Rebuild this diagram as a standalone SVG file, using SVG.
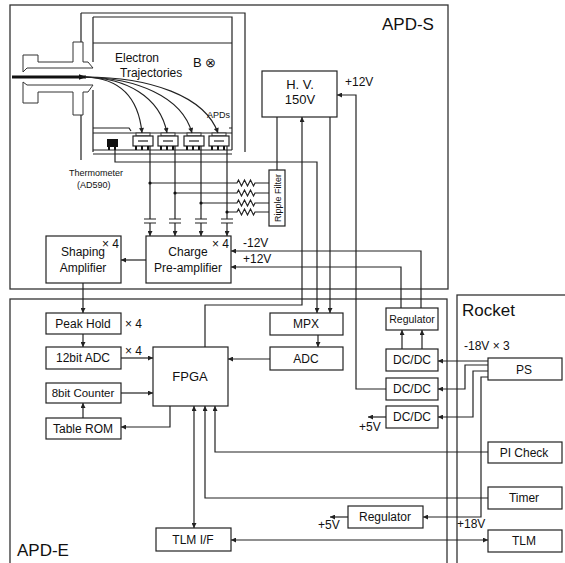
<svg xmlns="http://www.w3.org/2000/svg" width="565" height="563" viewBox="0 0 565 563">
<style>
.n{fill:#fff;stroke:#222;stroke-width:1.2}
.c{fill:none;stroke:#222;stroke-width:1.2}
.f{fill:none;stroke:#333;stroke-width:1.3}
.w{fill:#fff;stroke:#333;stroke-width:1}
text{font-family:"Liberation Sans",Arial,sans-serif;fill:#111}
.t{font-size:12px;text-anchor:middle}
.s{font-size:9px}
.big{font-size:17px}
</style>
<defs>
<marker id="a" viewBox="0 0 10 10" refX="10" refY="5" markerWidth="6" markerHeight="5" orient="auto-start-reverse" markerUnits="userSpaceOnUse"><path d="M0,0 L10,5 L0,10 z" fill="#222"/></marker>
<marker id="b" viewBox="0 0 10 10" refX="10" refY="5" markerWidth="11" markerHeight="7" orient="auto" markerUnits="userSpaceOnUse"><path d="M0,1 L10,5 L0,9 z" fill="#111"/></marker>
</defs>

<g id="frames">
<rect class="f" x="10" y="5" width="438" height="284"/>
<rect class="f" x="10" y="299" width="437" height="280"/>
<rect class="f" x="457" y="295" width="130" height="290"/>
<text class="big" x="382" y="30">APD-S</text>
<text class="big" x="17" y="556">APD-E</text>
<text class="big" x="462" y="316">Rocket</text>
</g>

<g id="chamber">
<path class="c" d="M81,13 H245 V152 M93,17 H232 V150 M81,13 V42 M81,115 V160 M93,17 V62 M93,90 V152 M93,43 H232"/>
<path class="c" d="M93,128 H129 L131,131 M93,133 H232 M93,150 H232 M93,154 H232 M229,128 H232"/>
<path class="w" d="M23,55 H38 V62 H73 V42 H83 V62 H88 L93,68 H27 L23,72 Z"/>
<path class="w" d="M23,82 L27,85 H93 L88,92 H83 V115 H73 V92 H38 V103 H23 Z"/>
<text x="115" y="62" style="font-size:12px">Electron</text>
<text x="120" y="77" style="font-size:12px">Trajectories</text>
<text x="193" y="67" style="font-size:13px">B ⊗</text>
<text class="s" x="207" y="118">APDs</text>
<text class="s" x="69" y="176">Thermometer</text>
<text class="s" x="77" y="188">(AD590)</text>
</g>

<g id="thermometer">
<rect x="107" y="139" width="11" height="8" fill="#111"/>
<rect x="108" y="147" width="2" height="3" fill="#111"/>
<rect x="114" y="147" width="2" height="3" fill="#111"/>
</g>

<g id="apds">
<g id="apd1" transform="translate(133,0)">
<rect class="w" x="3" y="133" width="14" height="3"/><rect class="n" x="0" y="136" width="20" height="10"/><line class="c" x1="5" y1="141" x2="15" y2="141"/>
<rect x="2" y="146" width="2" height="4" fill="#111"/><rect x="8" y="146" width="2" height="4" fill="#111"/><rect x="14" y="146" width="2" height="4" fill="#111"/>
</g>
<g id="apd2" transform="translate(158,0)">
<rect class="w" x="3" y="133" width="14" height="3"/><rect class="n" x="0" y="136" width="20" height="10"/><line class="c" x1="5" y1="141" x2="15" y2="141"/>
<rect x="2" y="146" width="2" height="4" fill="#111"/><rect x="8" y="146" width="2" height="4" fill="#111"/><rect x="14" y="146" width="2" height="4" fill="#111"/>
</g>
<g id="apd3" transform="translate(184,0)">
<rect class="w" x="3" y="133" width="14" height="3"/><rect class="n" x="0" y="136" width="20" height="10"/><line class="c" x1="5" y1="141" x2="15" y2="141"/>
<rect x="2" y="146" width="2" height="4" fill="#111"/><rect x="8" y="146" width="2" height="4" fill="#111"/><rect x="14" y="146" width="2" height="4" fill="#111"/>
</g>
<g id="apd4" transform="translate(209,0)">
<rect class="w" x="3" y="133" width="14" height="3"/><rect class="n" x="0" y="136" width="20" height="10"/><line class="c" x1="5" y1="141" x2="15" y2="141"/>
<rect x="2" y="146" width="2" height="4" fill="#111"/><rect x="8" y="146" width="2" height="4" fill="#111"/><rect x="14" y="146" width="2" height="4" fill="#111"/>
</g>
</g>

<g id="hv"><rect class="n" x="262" y="71" width="75" height="46"/><text class="t" x="300" y="89" style="font-size:13px">H.  V.</text><text class="t" x="300" y="104" style="font-size:13px">150V</text></g>
<g id="ripple"><rect class="n" x="269" y="170" width="16" height="56"/><text class="s" text-anchor="middle" transform="translate(280.5,198) rotate(-90)">Ripple Filter</text></g>
<g id="shaping"><rect class="n" x="46" y="236" width="75" height="47"/><text class="t" x="83" y="256">Shaping</text><text class="t" x="83" y="272">Amplifier</text><text x="119" y="248" style="font-size:12px" text-anchor="end">× 4</text></g>
<g id="preamp"><rect class="n" x="146" y="236" width="85" height="47"/><text class="t" x="188" y="256">Charge</text><text class="t" x="188" y="272">Pre-amplifier</text><text x="229" y="248" style="font-size:12px" text-anchor="end">× 4</text></g>

<g id="peakhold"><rect class="n" x="46" y="313" width="75" height="21"/><text class="t" x="83" y="328">Peak Hold</text><text x="125" y="328" style="font-size:12px">× 4</text></g>
<g id="adc12"><rect class="n" x="46" y="347" width="75" height="22"/><text class="t" x="83" y="362">12bit ADC</text><text x="125" y="355" style="font-size:12px">× 4</text></g>
<g id="counter"><rect class="n" x="46" y="383" width="75" height="20"/><text class="t" x="83" y="397" style="font-size:11.5px">8bit Counter</text></g>
<g id="tablerom"><rect class="n" x="46" y="418" width="75" height="21"/><text class="t" x="83" y="433">Table ROM</text></g>
<g id="fpga"><rect class="n" x="153" y="347" width="75" height="59"/><text class="t" x="190" y="381" style="font-size:13px">FPGA</text></g>
<g id="mpx"><rect class="n" x="270" y="313" width="73" height="22"/><text class="t" x="306" y="328">MPX</text></g>
<g id="adc"><rect class="n" x="270" y="347" width="73" height="23"/><text class="t" x="306" y="363">ADC</text></g>
<g id="regulator1"><rect class="n" x="386" y="308" width="52" height="22"/><text class="t" x="412" y="323" style="font-size:10.5px">Regulator</text></g>
<g id="dcdc1"><rect class="n" x="386" y="349" width="52" height="22"/><text class="t" x="412" y="364">DC/DC</text></g>
<g id="dcdc2"><rect class="n" x="386" y="378" width="52" height="22"/><text class="t" x="412" y="393">DC/DC</text></g>
<g id="dcdc3"><rect class="n" x="386" y="406" width="52" height="22"/><text class="t" x="412" y="421">DC/DC</text></g>
<g id="regulator2"><rect class="n" x="348" y="506" width="75" height="22"/><text class="t" x="385" y="521">Regulator</text></g>
<g id="tlmif"><rect class="n" x="156" y="528" width="75" height="23"/><text class="t" x="193" y="544">TLM I/F</text></g>
<g id="ps"><rect class="n" x="488" y="358" width="74" height="22"/><text class="t" x="524" y="374">PS</text></g>
<g id="picheck"><rect class="n" x="488" y="442" width="74" height="21"/><text class="t" x="524" y="457">PI Check</text></g>
<g id="timer"><rect class="n" x="488" y="487" width="74" height="22"/><text class="t" x="524" y="502">Timer</text></g>
<g id="tlm"><rect class="n" x="488" y="530" width="74" height="22"/><text class="t" x="524" y="545">TLM</text></g>

<g id="connectors">
<line x1="12" y1="77" x2="86" y2="77" stroke="#111" stroke-width="3" marker-end="url(#b)"/>
<path class="c" marker-end="url(#a)" d="M85,77 C115,78 138,92 142,133"/>
<path class="c" marker-end="url(#a)" d="M85,77 C125,78 160,96 167,133"/>
<path class="c" marker-end="url(#a)" d="M85,77 C135,78 182,96 192,133"/>
<path class="c" marker-end="url(#a)" d="M85,77 C150,77 205,96 218,133"/>
<path class="c" d="M150,146 V219 M175,146 V219 M201,146 V219 M227,146 V219"/>
<path class="c" d="M144,219 H156 M144,223 H156 M169,219 H181 M169,223 H181 M195,219 H207 M195,223 H207 M221,219 H233 M221,223 H233"/>
<path class="c" marker-end="url(#a)" d="M150,223 V236"/>
<path class="c" marker-end="url(#a)" d="M175,223 V236"/>
<path class="c" marker-end="url(#a)" d="M201,223 V236"/>
<path class="c" marker-end="url(#a)" d="M227,223 V236"/>
<path class="c" d="M150,183 H237 l1.5,-3 l3,6 l3,-6 l3,6 l3,-6 l3,6 l1.5,-3 H269"/>
<path class="c" d="M175,193 H237 l1.5,-3 l3,6 l3,-6 l3,6 l3,-6 l3,6 l1.5,-3 H269"/>
<path class="c" d="M201,203 H237 l1.5,-3 l3,6 l3,-6 l3,6 l3,-6 l3,6 l1.5,-3 H269"/>
<path class="c" d="M227,212 H237 l1.5,-3 l3,6 l3,-6 l3,6 l3,-6 l3,6 l1.5,-3 H269"/>
<circle cx="150" cy="183" r="1.6" fill="#111"/><circle cx="175" cy="193" r="1.6" fill="#111"/><circle cx="201" cy="203" r="1.6" fill="#111"/><circle cx="227" cy="212" r="1.6" fill="#111"/>
<path class="c" d="M277,117 V170"/>
<path class="c" marker-end="url(#a)" d="M115,150 V162 H317 V313"/>
<path class="c" marker-end="url(#a)" d="M330,117 V313"/>
<path class="c" marker-end="url(#a)" d="M205,347 V305 H302 V117"/>
<path class="c" marker-end="url(#a)" d="M386,389 H356 V95 H337"/>
<path class="c" marker-end="url(#a)" d="M421,308 V251 H231"/>
<path class="c" marker-end="url(#a)" d="M401,308 V267 H231"/>
<path class="c" marker-end="url(#a)" d="M146,260 H121"/>
<path class="c" marker-end="url(#a)" d="M83,283 V313"/>
<path class="c" marker-end="url(#a)" d="M83,334 V347"/>
<path class="c" marker-end="url(#a)" d="M121,358 H153"/>
<path class="c" marker-end="url(#a)" d="M121,393 H153"/>
<path class="c" marker-end="url(#a)" d="M170,406 V427 H121"/>
<path class="c" marker-end="url(#a)" d="M83,418 V403"/>
<path class="c" marker-end="url(#a)" d="M318,335 V347"/>
<path class="c" marker-end="url(#a)" d="M270,359 H228"/>
<path class="c" marker-end="url(#a)" d="M402,349 V330"/>
<path class="c" marker-end="url(#a)" d="M422,349 V330"/>
<path class="c" marker-end="url(#a)" d="M386,417 H368"/>
<path class="c" marker-end="url(#a)" d="M488,361 H438"/>
<path class="c" marker-end="url(#a)" d="M488,365 H465 V389 H438"/>
<path class="c" marker-end="url(#a)" d="M488,371 H473 V417 H438"/>
<path class="c" marker-end="url(#a)" d="M488,377 H481 V517 H423"/>
<path class="c" marker-end="url(#a)" d="M348,517 H330"/>
<path class="c" marker-end="url(#a)" d="M488,452 H215 V406"/>
<path class="c" marker-end="url(#a)" d="M488,498 H205 V406"/>
<path class="c" marker-start="url(#a)" marker-end="url(#a)" d="M194,406 V528"/>
<path class="c" marker-start="url(#a)" marker-end="url(#a)" d="M231,540 H488"/>
</g>

<g id="labels">
<text x="345" y="86" style="font-size:12px">+12V</text>
<text x="243" y="247" style="font-size:12px">-12V</text>
<text x="243" y="263" style="font-size:12px">+12V</text>
<text x="464" y="350" style="font-size:12px">-18V × 3</text>
<text x="359" y="431" style="font-size:12px">+5V</text>
<text x="318" y="529" style="font-size:12px">+5V</text>
<text x="457" y="528" style="font-size:12px">+18V</text>
</g>
</svg>
